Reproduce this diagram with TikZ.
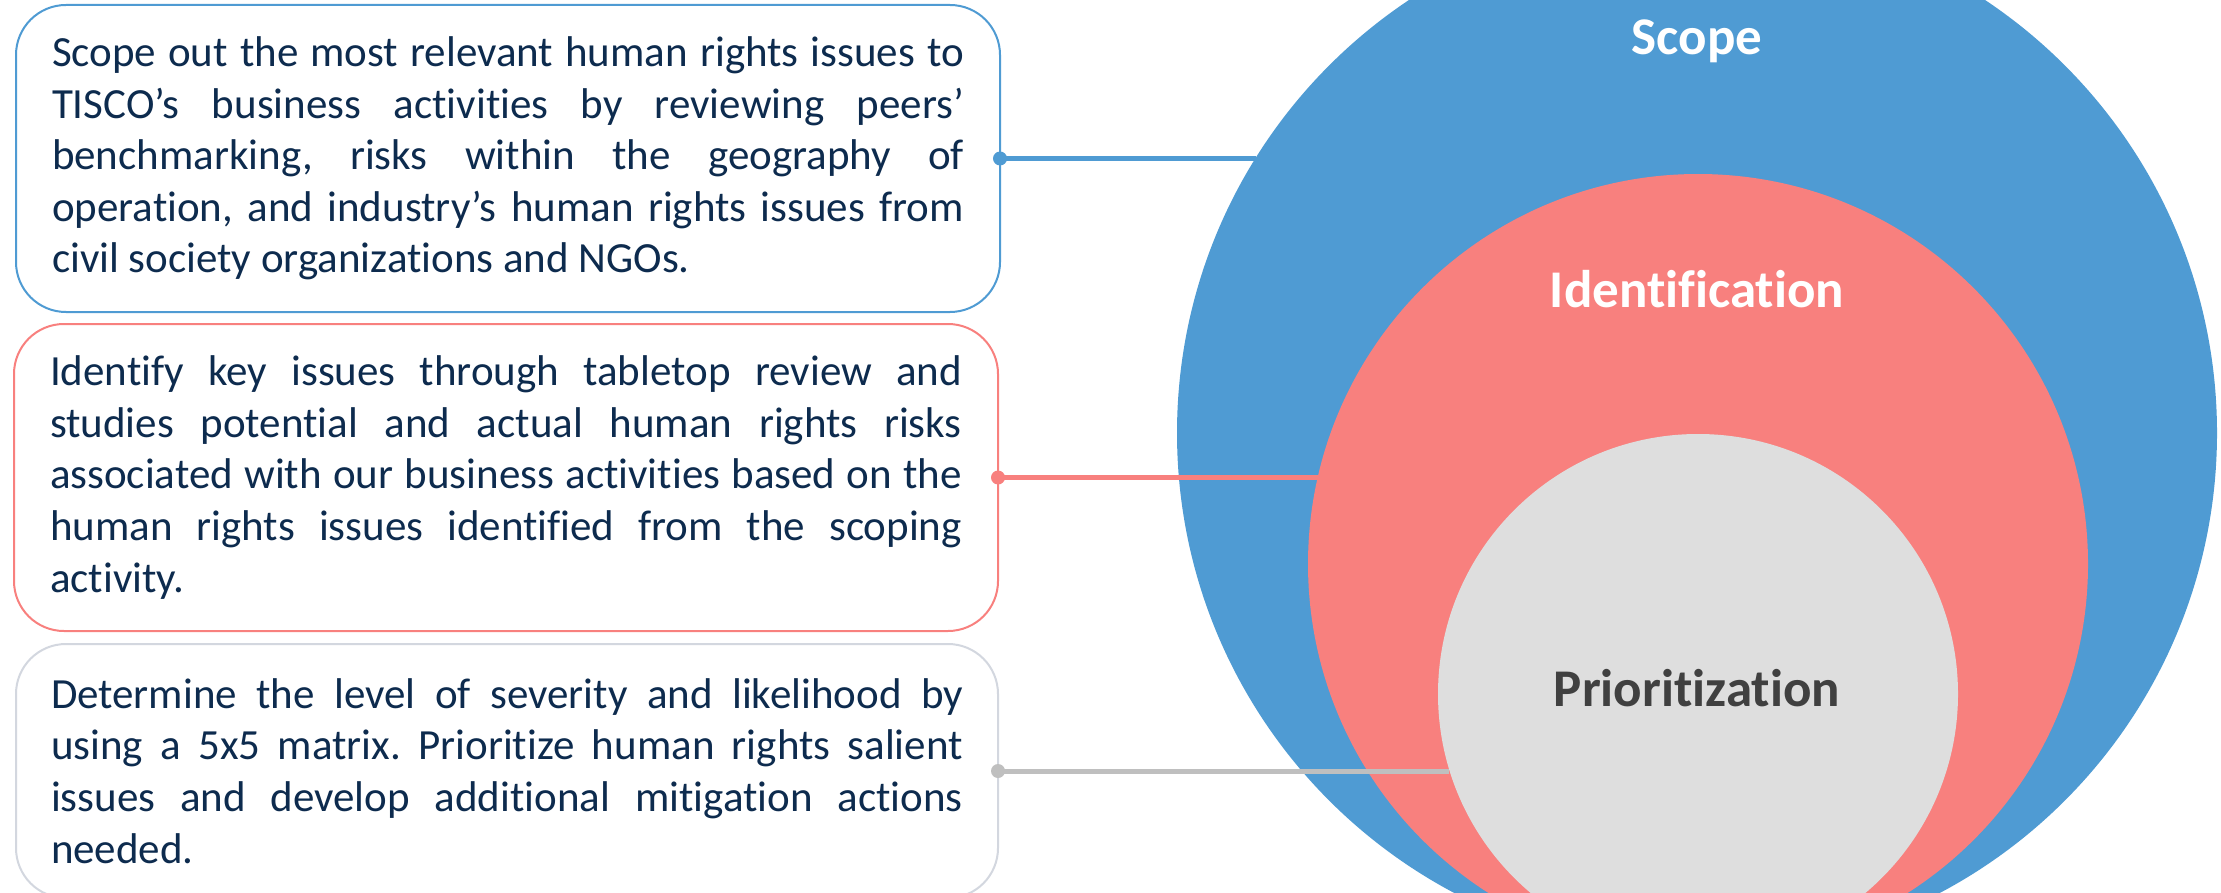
\documentclass[tikz,border=0pt]{standalone}
\usepackage{fontspec}
\setmainfont{Carlito}[Ligatures={NoCommon}]
\definecolor{scopeblue}{HTML}{4F9BD3}
\definecolor{identred}{HTML}{F8807E}
\definecolor{priogray}{HTML}{DEDEDE}
\definecolor{linkgray}{HTML}{BFBFBF}
\definecolor{boxgray}{HTML}{D3D7DF}
\definecolor{bodynavy}{HTML}{0D2B4E}
\definecolor{labeldark}{HTML}{404040}
\hyphenpenalty=10000
\exhyphenpenalty=10000
\frenchspacing
\begin{document}
\begin{tikzpicture}[x=0.5pt,y=-0.5pt,
  stage/.style={circle,inner sep=0pt,outer sep=0pt,minimum size=#1},
  stagelabel/.style={inner sep=0pt,anchor=base,
    font=\fontsize{26.5}{30}\selectfont\bfseries},
  infobox/.style={draw=#1,line width=1pt,rounded corners=25pt,fill=white,
    minimum width=492pt,minimum height=153.5pt,text width=456pt,
    inner sep=0pt,outer sep=0pt,align=justify,text=bodynavy,
    font=\fontsize{21.5}{25.8}\selectfont\frenchspacing},
  link/.style={draw=#1,line width=2.5pt},
  dot/.style={fill=#1}
]
\useasboundingbox (0,0) rectangle (2221,893);
\clip (0,0) rectangle (2221,893);

% nested stages, all touching at the bottom
\node[stage=520pt,fill=scopeblue] (scope) at (1697,433) {};
\node[stage=390pt,fill=identred]  (ident) at (1698,564) {};
\node[stage=260pt,fill=priogray]  (prio)  at (1698,694) {};

\node[stagelabel,text=white]     (scopetxt) at (1697,55)  {Scope};
\node[stagelabel,text=white]     (identtxt) at (1697,307) {Identification};
\node[stagelabel,text=labeldark] (priotxt)  at (1697,706) {Prioritization};

% description boxes
\node[infobox=scopeblue] (box1) at (508,158.5) {Scope out the most relevant human rights issues to\linebreak
TISCO’s business activities by reviewing peers’\linebreak
benchmarking, risks within the geography of\linebreak
operation, and industry’s human rights issues from\linebreak
civil society organizations and NGOs.};

\node[infobox=identred] (box2) at (506,477.5) {Identify key issues through tabletop review and\linebreak
studies potential and actual human rights risks\linebreak
associated with our business activities based on the\linebreak
human rights issues identified from the scoping\linebreak
activity.};

\node[infobox=boxgray,minimum width=491pt,minimum height=127pt] (box3) at (507,771) {Determine the level of severity and likelihood by\linebreak
using a 5x5 matrix. Prioritize human rights salient\linebreak
issues and develop additional mitigation actions\linebreak
needed.};

% connectors from boxes to their stage
\draw[link=scopeblue] (box1.east) -- (box1.east -| scope.148.14);
\draw[link=identred]  (box2.east) -- (box2.east -| ident.167.19);
\draw[link=linkgray]  (box3.east) -- (box3.east -| prio.197.23);
\fill[dot=scopeblue] (box1.east) circle[radius=7];
\fill[dot=identred]  (box2.east) circle[radius=7];
\fill[dot=linkgray]  (box3.east) circle[radius=7];
\end{tikzpicture}
\end{document}
